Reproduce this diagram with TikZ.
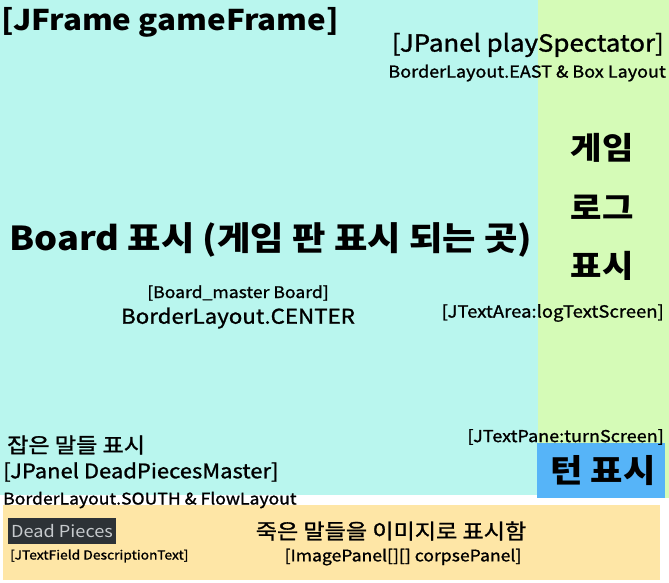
\documentclass[tikz,border=0pt]{standalone}
\usepackage{fontspec}
\setmainfont{Noto Sans CJK KR}[FakeStretch=1.1]
\newfontfamily\medfont{Noto Sans CJK KR}[FakeStretch=1.1, FakeBold=1.2]
\definecolor{framecyan}{HTML}{B9F6EE}
\definecolor{loggreen}{HTML}{D5FBB7}
\definecolor{turnblue}{HTML}{56B4F8}
\definecolor{deadorange}{HTML}{FEE6A6}
\definecolor{fielddark}{HTML}{2D3236}
\definecolor{fieldgray}{HTML}{C6CACD}

\tikzset{
  lbl/.style={inner sep=0pt, text=black},
  big/.style={lbl, font=\bfseries\fontsize{#1}{#1}\selectfont},
  small/.style={lbl, font=\medfont\fontsize{#1}{#1}\selectfont}
}

\begin{document}
\begin{tikzpicture}[x=1pt, y=-1pt]
  % canvas
  \fill[white] (0,0) rectangle (669,583);
  \useasboundingbox (0,0) rectangle (669,583);
  % panels
  \fill[framecyan] (0,0) rectangle (538,495);
  \fill[loggreen] (538,0) rectangle (669,498);
  \fill[turnblue] (537,443) rectangle (665,498);
  \fill[deadorange] (3,505) rectangle (660,580);

  % frame title
  \node[big=28.5, anchor=west] (frame) at (1,22) {[JFrame gameFrame]};
  % east panel
  \node[small=23.5, anchor=east] (spect) at (664,45) {[JPanel playSpectator]};
  \node[small=16.4, anchor=east] (east) at (666,73) {BorderLayout.EAST \& Box Layout};
  \node[big=31] (log1) at (602,148) {게임};
  \node[big=31] (log2) at (602,207) {로그};
  \node[big=31] (log3) at (602,266) {표시};
  \node[small=16.8, anchor=east] (logta) at (664,313) {[JTextArea:logTextScreen]};
  % board
  \node[big=33, anchor=west] (board) at (9,240) {Board 표시 (게임 판 표시 되는 곳)};
  \node[small=16] (bmaster) at (238,293) {[Board\_master Board]};
  \node[small=20.3] (center) at (238,318) {BorderLayout.CENTER};
  % turn
  \node[small=16.4, anchor=east] (turnta) at (664,437) {[JTextPane:turnScreen]};
  \node[big=32] (turn) at (603,471) {턴 표시};
  % south panel
  \node[small=21, anchor=west] (caught) at (7,445) {잡은 말들 표시};
  \node[small=20, anchor=west] (dpm) at (3,472) {[JPanel DeadPiecesMaster]};
  \node[small=16, anchor=west] (south) at (3,500) {BorderLayout.SOUTH \& FlowLayout};
  \node[lbl, font=\fontsize{16.5}{16.5}\selectfont, anchor=west,
        fill=fielddark, text=fieldgray,
        inner xsep=3pt, inner ysep=6.5pt] (dead) at (8,531) {Dead Pieces};
  \node[small=12.6, anchor=west] (desc) at (10,556) {[JTextField DescriptionText]};
  \node[small=21] (corpse) at (391,531) {죽은 말들을 이미지로 표시함};
  \node[small=16] (cpanel) at (403,557) {[ImagePanel[][] corpsePanel]};
\end{tikzpicture}
\end{document}
